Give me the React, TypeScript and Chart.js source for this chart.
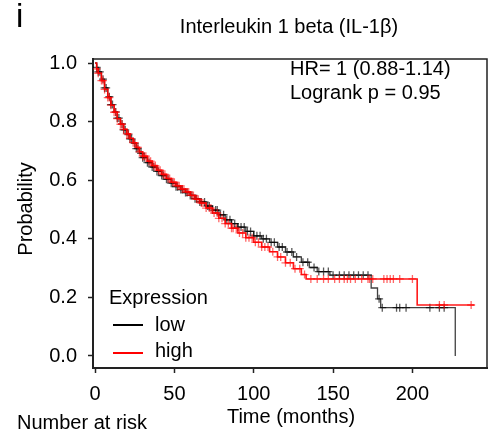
import React, { useEffect, useRef } from "react";
import { Chart, registerables } from "chart.js";

Chart.register(...registerables);

// ---- Data ----
const lowTime = [0, 1, 2, 4, 6, 8, 10, 12, 14, 16, 18, 20, 22, 24, 26, 28, 30, 33, 36, 39, 42, 45, 48, 51, 54, 57, 60, 63, 66, 70, 74, 78, 82, 86, 90, 95, 100, 105, 110, 115, 120, 125, 130, 135, 140, 148, 174, 178, 180, 227];
const lowSurv = [1.0, 0.985, 0.97, 0.945, 0.915, 0.885, 0.858, 0.833, 0.812, 0.792, 0.772, 0.756, 0.741, 0.726, 0.708, 0.692, 0.677, 0.66, 0.645, 0.63, 0.616, 0.603, 0.59, 0.578, 0.568, 0.558, 0.548, 0.537, 0.526, 0.512, 0.498, 0.482, 0.465, 0.452, 0.44, 0.425, 0.41, 0.4, 0.388, 0.372, 0.355, 0.338, 0.32, 0.302, 0.288, 0.276, 0.232, 0.195, 0.165, 0.0];

const highTime = [0, 1, 2, 4, 6, 8, 10, 12, 14, 16, 18, 20, 22, 24, 26, 28, 30, 33, 36, 39, 42, 45, 48, 51, 54, 57, 60, 63, 66, 70, 74, 78, 82, 86, 90, 95, 100, 105, 110, 115, 120, 125, 130, 133, 203, 239];
const highSurv = [1.0, 0.98, 0.965, 0.94, 0.91, 0.882, 0.856, 0.832, 0.81, 0.791, 0.774, 0.758, 0.743, 0.728, 0.712, 0.697, 0.682, 0.665, 0.65, 0.634, 0.62, 0.606, 0.593, 0.581, 0.57, 0.56, 0.548, 0.535, 0.522, 0.505, 0.488, 0.47, 0.452, 0.436, 0.42, 0.404, 0.388, 0.372, 0.356, 0.338, 0.318, 0.298, 0.278, 0.263, 0.174, 0.174];

const lowCensor = [1, 2, 3, 5, 6, 7, 9, 10, 11, 13, 14, 15, 17, 18, 19, 21, 22, 23, 25, 26, 27, 29, 30, 31, 33, 34, 36, 37, 39, 40, 42, 43, 45, 46, 48, 49, 51, 52, 54, 55, 57, 58, 60, 61, 63, 64, 66, 67, 69, 71, 72, 74, 76, 77, 79, 81, 83, 85, 86, 88, 90, 92, 94, 96, 98, 100, 102, 104, 106, 108, 111, 113, 116, 118, 121, 124, 127, 131, 134, 138, 141, 144, 147, 150, 154, 157, 160, 163, 166, 169, 172, 179, 181, 190, 192, 196, 211, 217, 220];
const highCensor = [1, 2, 4, 5, 6, 8, 9, 10, 12, 13, 14, 16, 17, 18, 20, 21, 22, 24, 25, 27, 28, 30, 31, 32, 34, 35, 37, 38, 40, 41, 43, 44, 46, 47, 49, 50, 52, 53, 55, 56, 58, 59, 61, 62, 64, 65, 67, 68, 70, 72, 73, 75, 77, 78, 80, 82, 84, 86, 87, 89, 91, 93, 95, 97, 99, 101, 103, 105, 107, 109, 112, 115, 117, 120, 123, 126, 129, 132, 136, 140, 144, 147, 151, 154, 157, 159, 161, 164, 168, 172, 173, 175, 182, 184, 186, 188, 192, 200, 217, 220, 237];

const xTicks = [0, 50, 100, 150, 200];
const yTicks = [0, 0.2, 0.4, 0.6, 0.8, 1.0];

const titleText = "Interleukin 1 beta (IL-1\u03b2)";
const panelLetter = "i";
const hrLines = ["HR= 1 (0.88-1.14)", "Logrank p = 0.95"];
const legendTitle = "Expression";
const seriesNames = ["low", "high"];
const xTitle = "Time (months)";
const yTitle = "Probability";
const riskLabel = "Number at risk";

const FONT = "'Liberation Sans', Arial, Helvetica, sans-serif";

function survAt(times: number[], surv: number[], t: number): number {
  let v = surv[0];
  for (let i = 0; i < times.length; i++) {
    if (times[i] <= t) v = surv[i];
    else break;
  }
  return v;
}

const decorPlugin = {
  id: "decor",
  afterDraw(chart: any) {
    const { ctx, chartArea: a } = chart;
    ctx.save();
    ctx.strokeStyle = "#222";
    ctx.lineWidth = 1.5;
    ctx.beginPath();
    ctx.moveTo(a.left, a.top);
    ctx.lineTo(a.right, a.top);
    ctx.lineTo(a.right, a.bottom);
    ctx.stroke();

    ctx.fillStyle = "#000";
    ctx.textBaseline = "middle";

    ctx.font = `33px ${FONT}`;
    ctx.textAlign = "left";
    ctx.fillText(panelLetter, 16, 18);

    ctx.font = `20px ${FONT}`;
    ctx.textAlign = "center";
    ctx.fillText(titleText, 289, 27);

    ctx.textAlign = "left";
    ctx.fillText(hrLines[0], 290, 69);
    ctx.fillText(hrLines[1], 290, 93);

    // legend
    ctx.fillText(legendTitle, 109, 298);
    ctx.lineWidth = 2;
    ctx.strokeStyle = "#000";
    ctx.beginPath();
    ctx.moveTo(113, 325);
    ctx.lineTo(143, 325);
    ctx.stroke();
    ctx.strokeStyle = "#ff0000";
    ctx.beginPath();
    ctx.moveTo(113, 353);
    ctx.lineTo(143, 353);
    ctx.stroke();
    ctx.fillText(seriesNames[0], 155, 325);
    ctx.fillText(seriesNames[1], 155, 351);

    // axis titles
    ctx.textAlign = "center";
    ctx.fillText(xTitle, 291, 417);
    ctx.textAlign = "left";
    ctx.fillText(riskLabel, 17, 423);

    ctx.save();
    ctx.translate(26, 209);
    ctx.rotate(-Math.PI / 2);
    ctx.textAlign = "center";
    ctx.fillText(yTitle, 0, 0);
    ctx.restore();

    ctx.restore();
  },
};

export default function App() {
  const ref = useRef<HTMLCanvasElement | null>(null);

  useEffect(() => {
    if (!ref.current) return;
    Chart.defaults.font.family = FONT;
    const lowLine = lowTime.map((t, i) => ({ x: t, y: lowSurv[i] }));
    const highLine = highTime.map((t, i) => ({ x: t, y: highSurv[i] }));
    const lowC = lowCensor.map((t) => ({ x: t, y: survAt(lowTime, lowSurv, t) }));
    const highC = highCensor.map((t) => ({ x: t, y: survAt(highTime, highSurv, t) }));

    const chart = new Chart(ref.current, {
      type: "line",
      data: {
        datasets: [
          {
            type: "scatter",
            data: highC,
            showLine: false,
            pointStyle: "cross",
            pointRadius: 4,
            borderColor: "rgba(255,0,0,0.6)",
            borderWidth: 1.3,
          } as any,
          {
            data: highLine,
            stepped: "before",
            borderColor: "rgba(255,0,0,0.9)",
            borderWidth: 1.6,
            pointRadius: 0,
            fill: false,
          },
          {
            type: "scatter",
            data: lowC,
            showLine: false,
            pointStyle: "cross",
            pointRadius: 4,
            borderColor: "rgba(0,0,0,0.65)",
            borderWidth: 1.3,
          } as any,
          {
            data: lowLine,
            stepped: "before",
            borderColor: "rgba(0,0,0,0.75)",
            borderWidth: 1.3,
            pointRadius: 0,
            fill: false,
          },
        ],
      },
      options: {
        animation: false,
        responsive: false,
        devicePixelRatio: 1,
        layout: { padding: { top: 59, right: 15, left: 0, bottom: 0 } },
        plugins: { legend: { display: false }, tooltip: { enabled: false } },
        scales: {
          x: {
            type: "linear",
            min: -1.3,
            max: 247,
            afterBuildTicks: (scale: any) => {
              scale.ticks = xTicks.map((v) => ({ value: v }));
            },
            afterFit: (scale: any) => {
              scale.height = 71;
            },
            ticks: {
              color: "#000",
              font: { size: 20 },
              padding: 9,
              maxRotation: 0,
              autoSkip: false,
              callback: (v: any) => String(v),
            },
            grid: { drawOnChartArea: false, tickLength: 5, color: "#222", tickWidth: 1.5 },
            border: { display: true, color: "#222", width: 2 },
          },
          y: {
            type: "linear",
            min: -0.041,
            max: 1.0137,
            afterBuildTicks: (scale: any) => {
              scale.ticks = yTicks.map((v) => ({ value: v }));
            },
            afterFit: (scale: any) => {
              scale.width = 93;
            },
            ticks: {
              color: "#000",
              font: { size: 20 },
              padding: 11,
              autoSkip: false,
              callback: (v: any) => Number(v).toFixed(1),
            },
            grid: { drawOnChartArea: false, tickLength: 5, color: "#222", tickWidth: 1.5 },
            border: { display: true, color: "#222", width: 2 },
          },
        },
      },
      plugins: [decorPlugin],
    });
    return () => chart.destroy();
  }, []);

  return (
    <div style={{ position: "fixed", left: 0, top: 0, width: 502, height: 439, background: "#fff" }}>
      <canvas ref={ref} width={502} height={439} style={{ width: 502, height: 439, display: "block" }} />
    </div>
  );
}
